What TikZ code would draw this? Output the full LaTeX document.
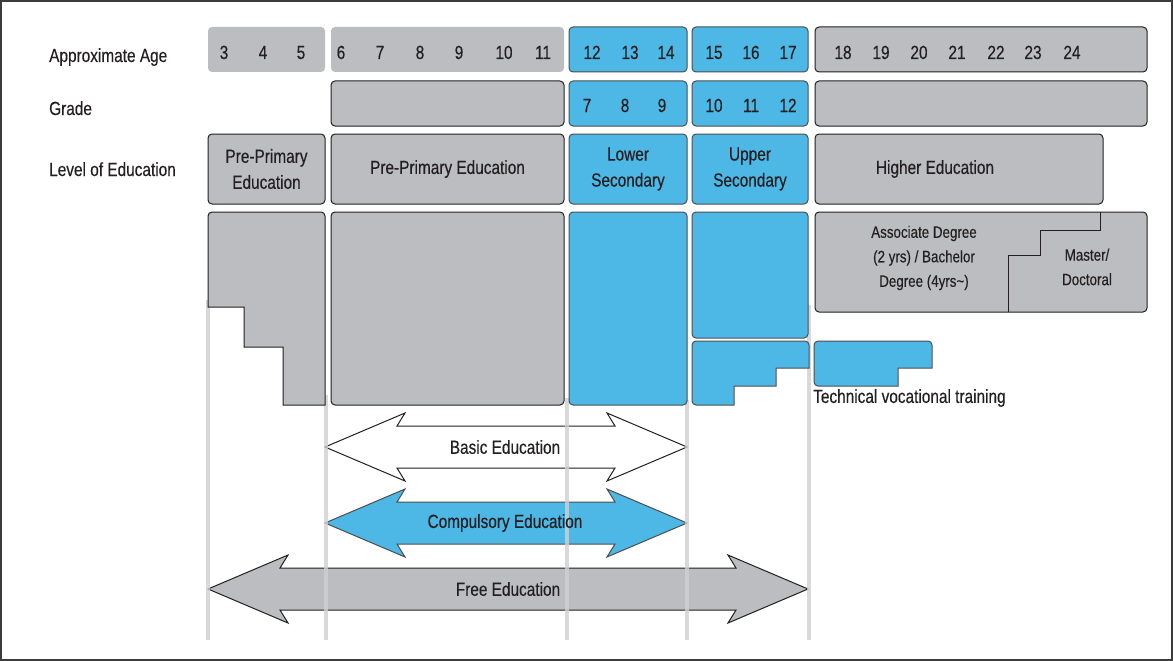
\documentclass[tikz,border=0pt]{standalone}
\usepackage{fontspec}
\setmainfont{Liberation Sans}[FakeStretch=0.81, FakeBold=0.3]
\usepackage{tikz}

\definecolor{edugray}{HTML}{BCBDC0}
\definecolor{edublue}{HTML}{4DB8E6}
\definecolor{edudark}{HTML}{231F20}
\definecolor{blueedge}{HTML}{4D4D4F}
\definecolor{guidegray}{HTML}{CFD0D2}
\definecolor{framegray}{HTML}{3C3C3C}

\tikzset{
  agebox/.style={fill=edugray, rounded corners=4pt, inner sep=0pt},
  graybox/.style={fill=edugray, draw=edudark, line width=1pt, rounded corners=4pt, inner sep=0pt, align=center},
  bluebox/.style={fill=edublue, draw=blueedge, line width=1pt, rounded corners=4pt, inner sep=0pt, align=center},
  rowlabel/.style={anchor=base west, inner sep=0pt},
  num/.style={anchor=base, inner sep=0pt},
  small/.style={font=\fontsize{16.5pt}{24.5pt}\selectfont, align=center, inner sep=0pt},
  guide/.style={guidegray, line width=4pt, opacity=0.8},
}

\begin{document}
\begin{tikzpicture}[x=1pt, y=-1pt, font=\fontsize{19pt}{26pt}\selectfont, text=edudark]
  \def\eduarrow#1#2#3{(#1,#3) -- ++(80,-34) -- ++(-8,13) -- ({#2-72},{#3-21}) -- ++(-8,-13)
    -- (#2,#3) -- ++(-80,34) -- ++(8,-13) -- ({#1+72},{#3+21}) -- ++(8,13) -- cycle}

  \useasboundingbox (0,0) rectangle (1173,661);
  \draw[framegray, line width=1.2pt] (1,1) rectangle (1172,660);

  % Row labels
  \node[rowlabel] (agelabel) at (49,62) {Approximate Age};
  \node[rowlabel] (gradelabel) at (49,115) {Grade};
  \node[rowlabel] (levellabel) at (49,176) {Level of Education};

  % Arrows
  \filldraw[fill=white, draw=edudark, line width=1pt] \eduarrow{325}{687}{447};
  \filldraw[fill=edublue, draw=blueedge, line width=1pt] \eduarrow{325}{687}{523};
  \filldraw[fill=edugray, draw=edudark, line width=1pt] \eduarrow{208}{808}{589};

  % Guide lines
  \foreach \gx/\gy in {208/300, 326/395, 567/398, 687/400, 809/305}
    \draw[guide] (\gx,\gy) -- (\gx,640);

  \node (basic) at (505,447) {Basic Education};
  \node (compulsory) at (505,523) {Compulsory Education};
  \node (free) at (508,589) {Free Education};

  % Approximate age
  \node[agebox, minimum width=117, minimum height=45] (age35) at (266.5,49.5) {};
  \node[agebox, minimum width=233, minimum height=45] (age611) at (447.5,49.5) {};
  \node[bluebox, minimum width=118, minimum height=45] (age1214) at (628,49.5) {};
  \node[bluebox, minimum width=116, minimum height=45] (age1517) at (750,49.5) {};
  \node[graybox, minimum width=332, minimum height=45] (age1824) at (981,49.5) {};
  \foreach \n/\nx in {3/224, 4/263, 5/301, 6/341, 7/380, 8/420, 9/459, 10/504, 11/543,
      12/592, 13/630, 14/666, 15/714, 16/751, 17/788,
      18/843, 19/881, 20/919, 21/957, 22/996, 23/1033, 24/1072}
    \node[num] (age\n) at (\nx,59) {\n};

  % Grade
  \node[graybox, minimum width=233, minimum height=45] (grprim) at (447.5,103.5) {};
  \node[bluebox, minimum width=118, minimum height=45] (grlow) at (628,103.5) {};
  \node[bluebox, minimum width=116, minimum height=45] (grup) at (750,103.5) {};
  \node[graybox, minimum width=332, minimum height=45] (grhigh) at (981,103.5) {};
  \foreach \g/\gx in {7/587, 8/625, 9/662, 10/714, 11/751, 12/788}
    \node[num] (grade\g) at (\gx,112) {\g};

  % Level of education
  \node[graybox, minimum width=117, minimum height=70] (lvpre) at (266.5,169) {Pre-Primary\\Education};
  \node[graybox, minimum width=233, minimum height=70] (lvprim) at (447.5,169) {Pre-Primary Education};
  \node[bluebox, minimum width=118, minimum height=70] (lvlow) at (628,169) {Lower\\Secondary};
  \node[bluebox, minimum width=116, minimum height=70] (lvup) at (750,169) {Upper\\Secondary};
  \node[graybox, minimum width=288, minimum height=70] (lvhigh) at (959,169) {};
  \node (hightext) at (935,169) {Higher Education};

  % Schools
  \filldraw[fill=edugray, draw=edudark, line width=1pt]
    (208,260) [rounded corners=4pt] -- (208,212) -- (325,212) -- (325,260)
    [sharp corners] -- (325,405) -- (283,405) -- (283,347) -- (244,347) -- (244,307) -- (208,307) -- cycle;
  \node[graybox, minimum width=233, minimum height=193] (prim) at (447.5,308.5) {};
  \node[bluebox, minimum width=118, minimum height=193] (low) at (628,308.5) {};
  \node[bluebox, minimum width=116, minimum height=126] (up) at (750,275) {};
  \filldraw[fill=edublue, draw=blueedge, line width=1pt]
    (715,405) [rounded corners=4pt] -- (692,405) -- (692,341) -- (809,341) -- (809,355)
    [sharp corners] -- (809,368) -- (776,368) -- (776,386) -- (734,386) -- (734,405) -- cycle;

  % Higher education and training
  \node[graybox, minimum width=332, minimum height=100] (high) at (981,262) {};
  \draw[edudark, line width=1pt] (1100,212) -- (1100,230) -- (1040,230) -- (1040,255) -- (1008,255) -- (1008,312);
  \node[small] (bachelor) at (924,258) {Associate Degree\\(2 yrs) / Bachelor\\Degree (4yrs\textasciitilde)};
  \node[small] (master) at (1087,267) {Master/\\Doctoral};
  \filldraw[fill=edublue, draw=blueedge, line width=1pt]
    (850,386) [rounded corners=4pt] -- (814,386) -- (814,341) -- (932,341) -- (932,355)
    [sharp corners] -- (932,368) -- (898,368) -- (898,386) -- cycle;
  \node[anchor=west, inner sep=0pt] (tech) at (813,398) {Technical vocational training};
\end{tikzpicture}
\end{document}
